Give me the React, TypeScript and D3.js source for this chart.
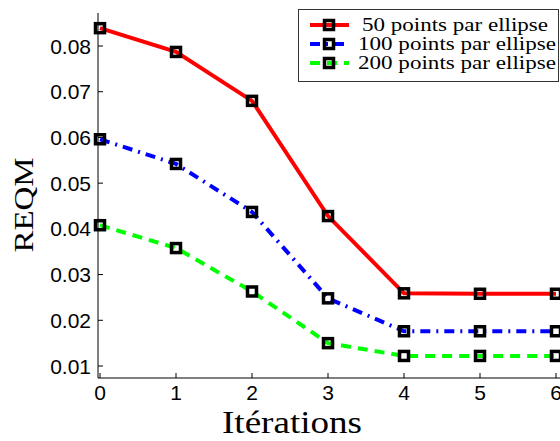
import React from "react";
import * as d3 from "d3";

const iterations = [0, 1, 2, 3, 4, 5, 6];
const series50 = [0.0839, 0.0787, 0.0680, 0.0428, 0.0259, 0.0258, 0.0258];
const series100 = [0.0596, 0.0542, 0.0437, 0.0248, 0.0176, 0.0176, 0.0176];
const series200 = [0.0408, 0.0358, 0.0263, 0.0150, 0.0122, 0.0122, 0.0122];
const yTicks = [0.01, 0.02, 0.03, 0.04, 0.05, 0.06, 0.07, 0.08];
const seriesLabels = ["50 points par ellipse", "100 points par ellipse", "200 points par ellipse"];
const seriesColors = ["#ff0000", "#0000ff", "#00ff00"];
const seriesDash = ["none", "10,6,2,6", "10,7"];

const W = 560;
const H = 441;

export default function App() {
  const x = d3.scaleLinear().domain([0, 6]).range([100, 556]);
  const y = d3.scaleLinear().domain([0.01, 0.08]).range([366, 46]);
  const axisLeft = 98;
  const axisBottom = 378;
  const axisTop = 13;
  const data = [series50, series100, series200];
  const line = d3
    .line<number>()
    .x((_, i) => x(iterations[i]))
    .y((d) => y(d));
  const serif = "'Liberation Serif', 'DejaVu Serif', serif";
  const sans = "'Liberation Sans', Arial, sans-serif";
  const rowY = [25, 44, 63];

  return (
    <svg width={W} height={H} style={{ position: "absolute", left: 0, top: 0 }}>
      <rect x={0} y={0} width={W} height={H} fill="#fff" />
      {/* axes */}
      <line x1={axisLeft} y1={axisTop} x2={axisLeft} y2={axisBottom} stroke="#000" strokeWidth={1} />
      <line x1={axisLeft} y1={axisBottom} x2={W} y2={axisBottom} stroke="#000" strokeWidth={1} />
      {yTicks.map((t) => (
        <g key={t}>
          <line x1={axisLeft} x2={axisLeft + 5} y1={y(t)} y2={y(t)} stroke="#000" />
          <text x={91} y={y(t) + 7.5} textAnchor="end" fontFamily={sans} fontSize={21} fill="#000">
            {d3.format(".2f")(t)}
          </text>
        </g>
      ))}
      {iterations.map((t) => (
        <g key={t}>
          <line x1={x(t)} x2={x(t)} y1={axisBottom} y2={axisBottom - 5} stroke="#000" />
          <text x={x(t)} y={400} textAnchor="middle" fontFamily={sans} fontSize={21} fill="#000">
            {t}
          </text>
        </g>
      ))}
      <text x={292} y={433} textAnchor="middle" fontFamily={serif} fontSize={31} textLength={140} lengthAdjust="spacingAndGlyphs" fill="#000">
        Itérations
      </text>
      <text
        transform={`translate(33,205) rotate(-90)`}
        textAnchor="middle"
        fontFamily={serif}
        fontSize={27}
        textLength={95}
        lengthAdjust="spacingAndGlyphs"
        fill="#000"
      >
        REQM
      </text>
      {/* series */}
      {data.map((s, k) => (
        <g key={k}>
          <path
            d={line(s) || ""}
            fill="none"
            stroke={seriesColors[k]}
            strokeWidth={4}
            strokeDasharray={seriesDash[k]}
          />
          {s.map((v, i) => (
            <rect
              key={i}
              x={x(iterations[i]) - 4.5}
              y={y(v) - 4.5}
              width={9}
              height={9}
              fill="none"
              stroke="#000"
              strokeWidth={3.5}
            />
          ))}
        </g>
      ))}
      {/* legend */}
      <rect x={298.5} y={9.5} width={260} height={72} fill="#fff" stroke="#333" strokeWidth={1} />
      {seriesLabels.map((lab, k) => (
        <g key={lab}>
          <line
            x1={310}
            x2={349}
            y1={rowY[k]}
            y2={rowY[k]}
            stroke={seriesColors[k]}
            strokeWidth={4}
            strokeDasharray={seriesDash[k]}
          />
          <rect x={329 - 4.5} y={rowY[k] - 4.5} width={9} height={9} fill="none" stroke="#000" strokeWidth={3.5} />
          <text
            x={k === 0 ? 362 : 358}
            y={rowY[k] + 6}
            fontFamily={serif}
            fontSize={18}
            textLength={k === 0 ? 186 : 198}
            lengthAdjust="spacingAndGlyphs"
            fill="#000"
          >
            {lab}
          </text>
        </g>
      ))}
    </svg>
  );
}
